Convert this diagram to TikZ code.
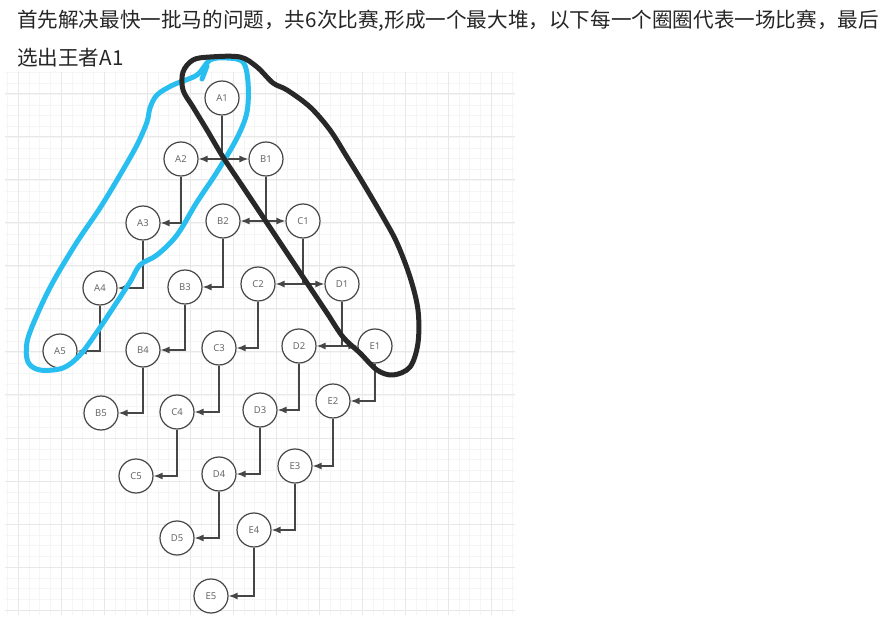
\documentclass[tikz,border=0pt]{standalone}
\usepackage{fontspec}
\setmainfont{Noto Sans}
\newfontfamily\cjk{Noto Sans CJK SC}
\usepackage{tikz}
\usetikzlibrary{arrows.meta}
\definecolor{penBlue}{RGB}{41,190,240}
\definecolor{penBlack}{RGB}{40,40,40}
\definecolor{gridMinor}{RGB}{245,245,245}
\definecolor{gridMajor}{RGB}{232,232,232}
\definecolor{ringGray}{RGB}{70,70,70}
\definecolor{labelGray}{RGB}{105,105,105}
\tikzset{
  horse/.style={circle, draw=ringGray, line width=1.2pt, fill=white,
    minimum size=34pt, inner sep=0pt, text=labelGray,
    font=\fontsize{9.5}{10}\selectfont},
  race/.style={draw=ringGray, line width=1.3pt, -{Latex[length=9pt,width=7pt]}},
  pen/.style={line width=5pt, line cap=round, line join=round},
}

\begin{document}
\begin{tikzpicture}[x=1pt,y=-1pt]
    \useasboundingbox[fill=white] (0,0) rectangle (892,620);

    % Grid
    \foreach \i in {-1,...,46}
        \draw[gridMinor] ({18+\i*10.75},72) -- ({18+\i*10.75},615);
    \foreach \j in {0,...,50}
        \draw[gridMinor] (5,{72.5+\j*10.75}) -- (515,{72.5+\j*10.75});
    \foreach \i in {0,...,11}
        \draw[gridMajor, line width=1pt] ({18+\i*43},72) -- ({18+\i*43},615);
    \foreach \j in {0,...,12}
        \draw[gridMajor, line width=1pt] (5,{94+\j*43}) -- (515,{94+\j*43});

    % Caption
    \node[anchor=west, inner sep=0pt, text=black!85, font=\cjk\fontsize{20.6}{24}\selectfont] (line1) at (17,21)
        {首先解决最快一批马的问题，共6次比赛,形成一个最大堆，以下每一个圈圈代表一场比赛，最后};
    \node[anchor=west, inner sep=0pt, text=black!85, font=\cjk\fontsize{20.6}{24}\selectfont] (line2) at (17,58)
        {选出王者A1};

    % Races
    \foreach \n/\x/\y in {A1/222/98, A2/181/159, B1/266/159, A3/143/223, B2/223/221,
        C1/303/221, A4/100/288, B3/185/287, C2/258/284, D1/342/284, A5/60/351,
        B4/143/350, C3/219/348, D2/299/346, E1/375/346, B5/101/413, C4/177/412,
        D3/260/410, E2/333/401, C5/136/476, D4/219/474, E3/295/466, D5/177/538,
        E4/254/530, E5/211/596}
        \node[horse] (\n) at (\x,\y) {\n};

    % Winner goes on
    \foreach \p/\c in {A1/A2, A1/B1, A2/A3, B1/B2, B1/C1, A3/A4, B2/B3, C1/C2,
        C1/D1, A4/A5, B3/B4, C2/C3, D1/D2, D1/E1, B4/B5, C3/C4, D2/D3, E1/E2,
        C4/C5, D3/D4, E2/E3, D4/D5, E3/E4, E4/E5}
        \draw[race] (\p) |- (\c);

    % Blue loop
    \draw[pen, penBlue] plot[smooth cycle, tension=0.55] coordinates {
        (210,60) (197,75) (173,85) (157,95) (150,108) (147,122) (137,145)
        (120,175) (100,208) (77,242) (53,282) (37,315) (27,342) (28,362)
        (40,370) (63,368) (80,355) (97,332) (113,308) (130,282) (140,265)
        (157,255) (177,235) (197,202) (217,172) (237,138) (247,112) (248,82)
        (243,62) (227,58)};
    \draw[pen, penBlue] (202,79) -- (207,66);

    % Black loop
    \draw[pen, penBlack] plot[smooth cycle, tension=0.55] coordinates {
        (183,72) (193,60) (210,57) (240,57) (257,67) (273,83) (287,90)
        (310,107) (330,130) (347,157) (363,183) (383,217) (397,243) (410,277)
        (418,310) (418,343) (410,367) (393,375) (377,370) (360,353) (343,337)
        (327,313) (307,283) (287,253) (263,217) (243,187) (223,157) (207,130)
        (193,107) (183,90)};
\end{tikzpicture}
\end{document}
